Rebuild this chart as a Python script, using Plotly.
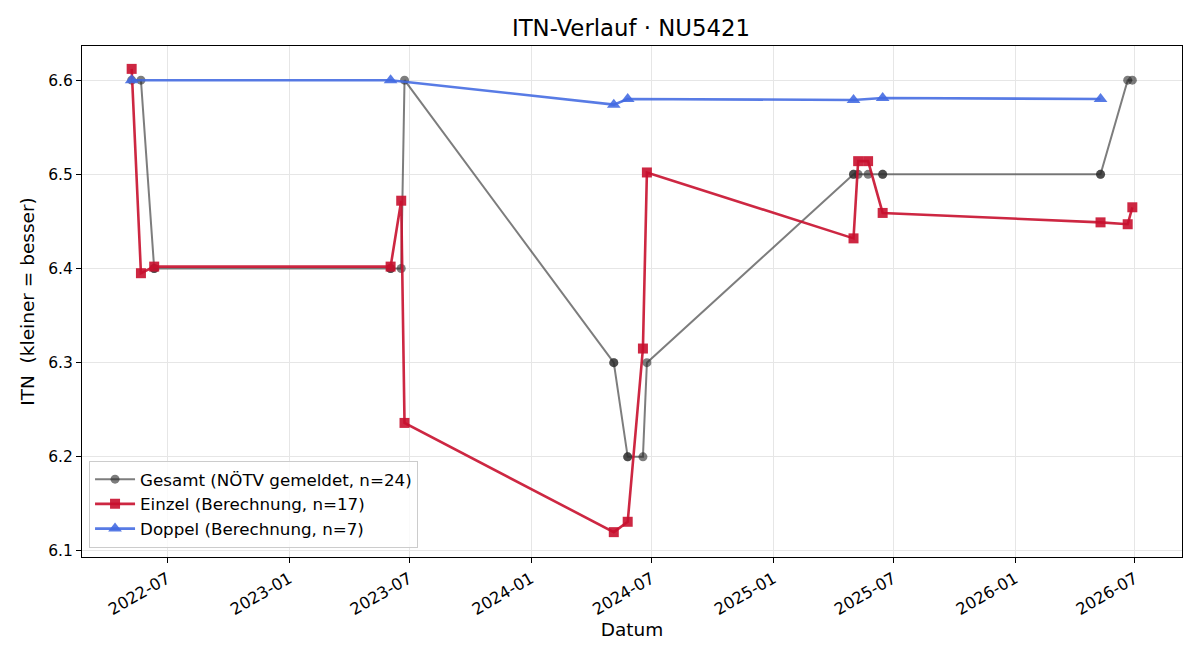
import plotly.graph_objects as go

# ---- data ----
gesamt_dates = [
    "2022-05-08", "2022-05-22", "2022-06-11", "2022-06-11",
    "2023-06-03", "2023-06-03", "2023-06-19", "2023-06-24",
    "2024-05-05", "2024-05-05", "2024-05-26", "2024-05-26",
    "2024-06-18", "2024-06-24",
    "2025-05-02", "2025-05-02", "2025-05-09", "2025-05-24",
    "2025-06-15", "2025-06-15",
    "2026-05-10", "2026-05-10", "2026-06-20", "2026-06-27",
]
gesamt_itn = [
    6.6, 6.6, 6.4, 6.4,
    6.4, 6.4, 6.4, 6.6,
    6.3, 6.3, 6.2, 6.2,
    6.2, 6.3,
    6.5, 6.5, 6.5, 6.5,
    6.5, 6.5,
    6.5, 6.5, 6.6, 6.6,
]

einzel_dates = [
    "2022-05-08", "2022-05-22", "2022-06-11",
    "2023-06-03", "2023-06-19", "2023-06-24",
    "2024-05-05", "2024-05-26", "2024-06-18", "2024-06-24",
    "2025-05-02", "2025-05-09", "2025-05-24", "2025-06-15",
    "2026-05-10", "2026-06-20", "2026-06-27",
]
einzel_itn = [
    6.612, 6.395, 6.402,
    6.402, 6.472, 6.236,
    6.120, 6.131, 6.315, 6.502,
    6.432, 6.514, 6.514, 6.459,
    6.449, 6.447, 6.465,
]

doppel_dates = [
    "2022-05-08", "2023-06-03", "2024-05-05", "2024-05-26",
    "2025-05-02", "2025-06-15", "2026-05-10",
]
doppel_itn = [6.600, 6.600, 6.574, 6.580, 6.579, 6.581, 6.580]

FONT = "DejaVu Sans"

fig = go.Figure()
fig.add_trace(go.Scatter(
    x=gesamt_dates, y=gesamt_itn, mode="lines+markers",
    name="Gesamt (NÖTV gemeldet, n=24)",
    line=dict(color="rgba(45,45,45,0.62)", width=2),
    marker=dict(symbol="circle", size=9, color="rgba(45,45,45,0.62)", line=dict(width=0)),
))
fig.add_trace(go.Scatter(
    x=einzel_dates, y=einzel_itn, mode="lines+markers",
    name="Einzel (Berechnung, n=17)",
    line=dict(color="rgba(200,16,46,0.9)", width=2.6),
    marker=dict(symbol="square", size=10, color="rgba(200,16,46,0.9)", line=dict(width=0)),
))
fig.add_trace(go.Scatter(
    x=doppel_dates, y=doppel_itn, mode="lines+markers",
    name="Doppel (Berechnung, n=7)",
    line=dict(color="rgba(65,105,225,0.88)", width=2.6),
    marker=dict(symbol="triangle-up", size=12, color="rgba(65,105,225,0.88)", line=dict(width=0)),
))

fig.update_layout(
    width=1200, height=660,
    margin=dict(l=82, r=18, t=46, b=103),
    paper_bgcolor="white", plot_bgcolor="white",
    font=dict(family=FONT, size=15, color="black"),
    title=dict(text="ITN-Verlauf · NU5421", x=631 / 1200, xanchor="center",
               y=1 - 28 / 660, yanchor="middle", font=dict(size=22.8, family=FONT)),
    showlegend=True,
    legend=dict(x=0.0064, y=0.018, xanchor="left", yanchor="bottom",
                bgcolor="rgba(255,255,255,0.8)", bordercolor="#cccccc", borderwidth=1,
                itemwidth=40,
                font=dict(size=16.7, family=FONT)),
)
fig.update_xaxes(
    type="date", range=["2022-02-22", "2026-09-10"],
    tick0="2022-07-01", dtick="M6", tickformat="%Y-%m", tickangle=-30,
    tickfont=dict(size=16.3),
    showgrid=True, gridcolor="#e6e6e6", gridwidth=1,
    showline=True, linecolor="black", linewidth=1, mirror=True,
    ticks="outside", ticklen=5, tickcolor="black",
    title=dict(text="Datum", font=dict(size=18.5), standoff=4),
    zeroline=False,
)
fig.update_yaxes(
    range=[6.0936, 6.6363], tick0=6.1, dtick=0.1, tickformat=".1f",
    tickfont=dict(size=15.5),
    showgrid=True, gridcolor="#e6e6e6", gridwidth=1,
    showline=True, linecolor="black", linewidth=1, mirror=True,
    ticks="outside", ticklen=5, tickcolor="black",
    title=dict(text="ITN  (kleiner = besser)", font=dict(size=18.5), standoff=8),
    zeroline=False,
)

fig.write_html("out.html")
